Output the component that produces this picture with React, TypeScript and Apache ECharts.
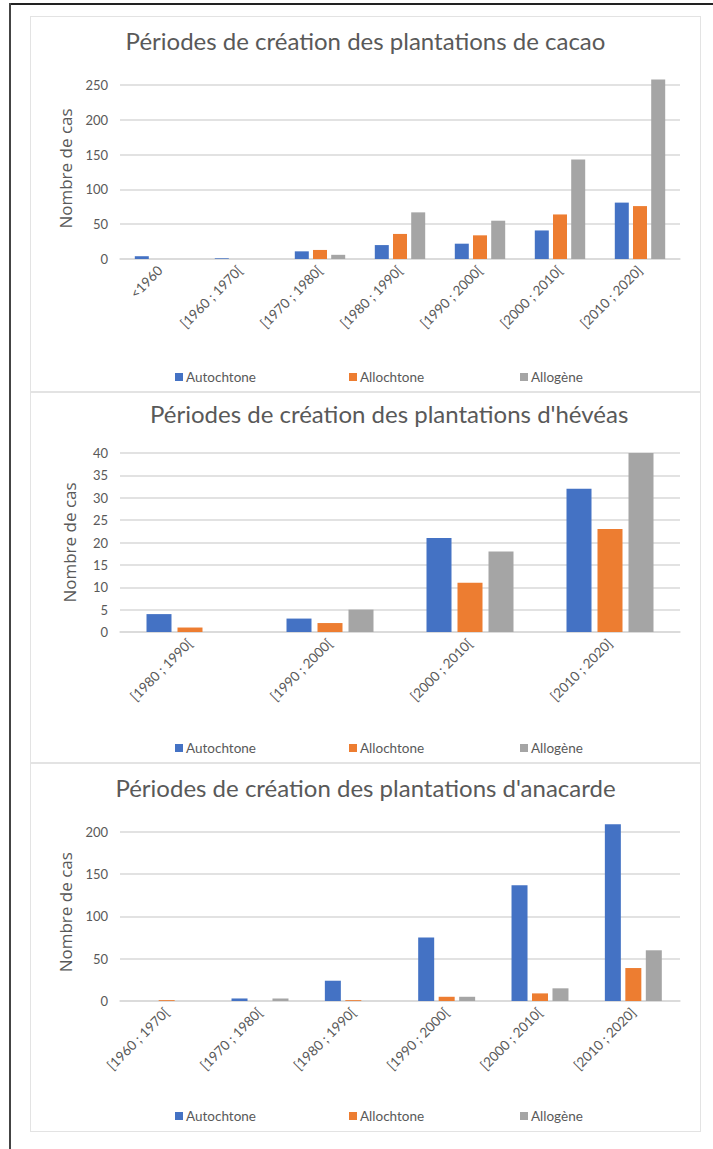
import React, { useEffect, useRef } from "react";
import * as echarts from "echarts";

const seriesNames = ["Autochtone", "Allochtone", "Allogène"];
const seriesColors = ["#4472C4", "#ED7D31", "#A5A5A5"];

const cacaoTitle = "Périodes de création des plantations de cacao";
const cacaoCategories = ["<1960", "[1960 ; 1970[", "[1970 ; 1980[", "[1980 ; 1990[", "[1990 ; 2000[", "[2000 ; 2010[", "[2010 ; 2020]"];
const cacaoAutochtone = [4, 1, 11, 20, 22, 41, 81];
const cacaoAllochtone = [0, 0, 13, 36, 34, 64, 76];
const cacaoAllogene = [0, 0, 6, 67, 55, 143, 258];

const heveaTitle = "Périodes de création des plantations d'hévéas";
const heveaCategories = ["[1980 ; 1990[", "[1990 ; 2000[", "[2000 ; 2010[", "[2010 ; 2020]"];
const heveaAutochtone = [4, 3, 21, 32];
const heveaAllochtone = [1, 2, 11, 23];
const heveaAllogene = [0, 5, 18, 40];

const anacardeTitle = "Périodes de création des plantations d'anacarde";
const anacardeCategories = ["[1960 ; 1970[", "[1970 ; 1980[", "[1980 ; 1990[", "[1990 ; 2000[", "[2000 ; 2010[", "[2010 ; 2020]"];
const anacardeAutochtone = [0, 3, 24, 75, 137, 209];
const anacardeAllochtone = [1, 0, 1, 5, 9, 39];
const anacardeAllogene = [0, 3, 0, 5, 15, 60];

const yAxisName = "Nombre de cas";
const TEXT = "#595959";
const GRID = "#D9D9D9";
const FONT = "Lato, 'Liberation Sans', sans-serif";

type Cfg = {
  title: string;
  categories: string[];
  values: number[][];
  yMax: number;
  yInterval: number;
  hideMax: boolean;
  titleLeft: number | string;
  titleTop: number;
  gridTop: number;
  gridBottom: number;
  legendTop: number;
  barWidth: number;
  barGap: string;
};

function makeOption(c: Cfg, height: number) {
  const legendLefts = [145, 319, 490];
  return {
    animation: false,
    title: {
      text: c.title,
      left: c.titleLeft,
      top: c.titleTop,
      textStyle: { fontFamily: FONT, fontSize: 24, fontWeight: "normal", color: TEXT },
    },
    legend: seriesNames.map((n, i) => ({
      data: [n],
      left: legendLefts[i],
      top: c.legendTop,
      icon: "rect",
      itemWidth: 8,
      itemHeight: 8,
      itemGap: 4,
      padding: 0,
      selectedMode: false,
      textStyle: { fontFamily: FONT, fontSize: 13.5, color: TEXT, padding: [0, 0, 0, -2] },
    })),
    grid: { left: 90, right: 21, top: c.gridTop, bottom: height - c.gridBottom, containLabel: false },
    xAxis: {
      type: "category",
      data: c.categories,
      axisLine: { show: true, lineStyle: { color: GRID, width: 1.5 } },
      axisTick: { show: false },
      axisLabel: { rotate: 45, color: TEXT, fontSize: 13.5, fontFamily: FONT, margin: 9, interval: 0 },
    },
    yAxis: {
      type: "value",
      min: 0,
      max: c.yMax,
      interval: c.yInterval,
      name: yAxisName,
      nameLocation: "middle",
      nameRotate: 90,
      nameGap: 42,
      nameTextStyle: { fontFamily: "'Open Sans', sans-serif", fontSize: 17, color: TEXT },
      axisLine: { show: false },
      axisTick: { show: false },
      axisLabel: { color: TEXT, fontSize: 13, fontFamily: FONT, margin: 12, showMaxLabel: !c.hideMax },
      splitLine: { lineStyle: { color: GRID, width: 1.5 }, showMaxLine: !c.hideMax },
    },
    series: seriesNames.map((n, i) => ({
      type: "bar",
      name: n,
      data: c.values[i],
      barWidth: c.barWidth,
      barGap: c.barGap,
      itemStyle: { color: seriesColors[i] },
    })),
  };
}

const configs: { cfg: Cfg; height: number }[] = [
  {
    height: 376,
    cfg: {
      title: cacaoTitle,
      categories: cacaoCategories,
      values: [cacaoAutochtone, cacaoAllochtone, cacaoAllogene],
      yMax: 260,
      yInterval: 50,
      hideMax: true,
      titleLeft: "center",
      titleTop: 7,
      gridTop: 62,
      gridBottom: 243,
      legendTop: 354,
      barWidth: 14,
      barGap: "30%",
    },
  },
  {
    height: 371,
    cfg: {
      title: heveaTitle,
      categories: heveaCategories,
      values: [heveaAutochtone, heveaAllochtone, heveaAllogene],
      yMax: 40,
      yInterval: 5,
      hideMax: false,
      titleLeft: 115,
      titleTop: 4,
      gridTop: 61,
      gridBottom: 240,
      legendTop: 349,
      barWidth: 25,
      barGap: "24%",
    },
  },
  {
    height: 369,
    cfg: {
      title: anacardeTitle,
      categories: anacardeCategories,
      values: [anacardeAutochtone, anacardeAllochtone, anacardeAllogene],
      yMax: 210,
      yInterval: 50,
      hideMax: true,
      titleLeft: "center",
      titleTop: 7,
      gridTop: 60.5,
      gridBottom: 238,
      legendTop: 346,
      barWidth: 16,
      barGap: "28%",
    },
  },
];

const boxTops = [16, 392, 763];

function ChartBox({ idx }: { idx: number }) {
  const ref = useRef<HTMLDivElement>(null);
  const { cfg, height } = configs[idx];
  useEffect(() => {
    if (!ref.current) return;
    const chart = echarts.init(ref.current, undefined, { renderer: "svg" });
    chart.setOption(makeOption(cfg, height) as any);
    return () => chart.dispose();
  }, []);
  return (
    <div
      style={{
        position: "absolute",
        left: 30,
        top: boxTops[idx],
        width: 671,
        height: height,
        boxSizing: "border-box",
        border: "1.5px solid #E3E3E3",
        background: "#fff",
      }}
    >
      <div ref={ref} style={{ position: "absolute", left: -1.5, top: -1.5, width: 671, height: height }} />
    </div>
  );
}

export default function App() {
  return (
    <div style={{ position: "absolute", left: 0, top: 0, width: 713, height: 1149, background: "#fff", overflow: "hidden" }}>
      <div style={{ position: "absolute", left: 9, top: 3, width: 704, height: 1.5, background: "#222" }} />
      <div style={{ position: "absolute", left: 9, top: 3, width: 2, height: 1146, background: "#444" }} />
      <ChartBox idx={0} />
      <ChartBox idx={1} />
      <ChartBox idx={2} />
    </div>
  );
}
